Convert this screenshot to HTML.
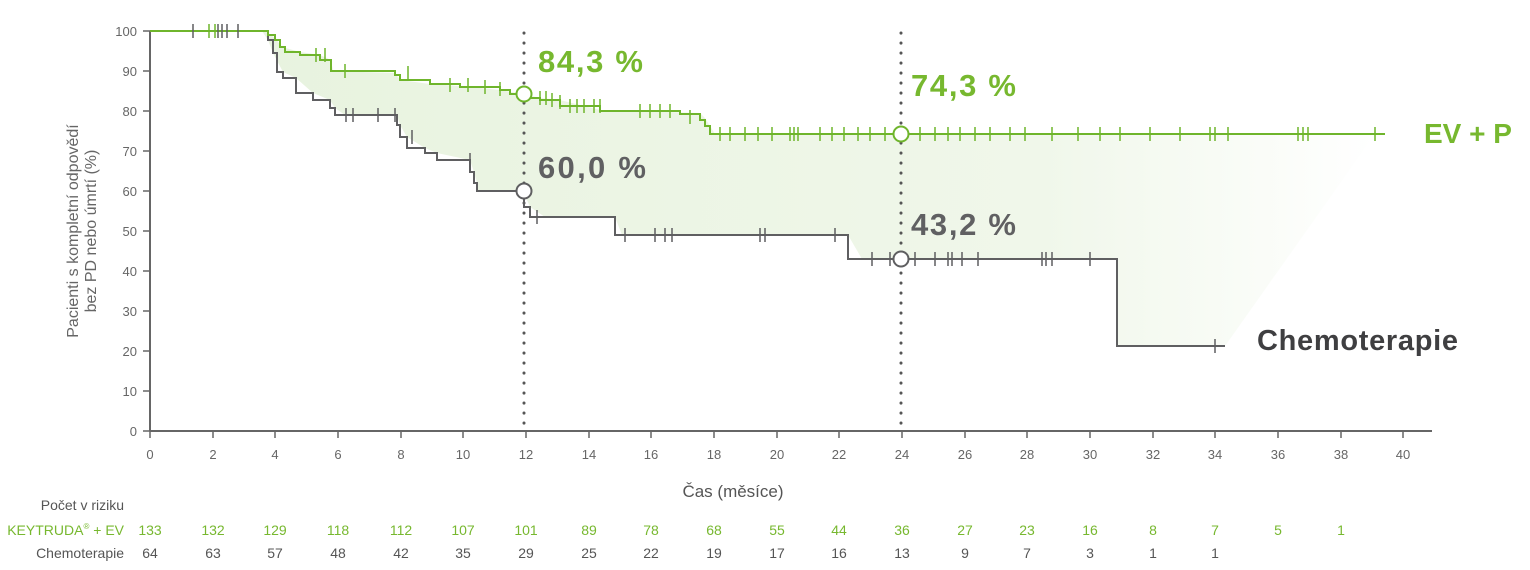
<!DOCTYPE html>
<html><head><meta charset="utf-8"><style>
body{margin:0;background:#fff}
svg{display:block;font-family:"Liberation Sans",sans-serif}
</style></head><body>
<svg width="1530" height="570" viewBox="0 0 1530 570" xmlns="http://www.w3.org/2000/svg">
<defs>
<linearGradient id="g" x1="0" x2="1" y1="0" y2="0">
<stop offset="0" stop-color="#e8f3df"/><stop offset="0.7" stop-color="#f0f7ea"/><stop offset="1" stop-color="#ffffff"/>
</linearGradient>
</defs>
<polygon fill="url(#g)" points="265,31 268,33 275,38 282,47 300,52 320,55 331,60 333,71 395,73 400,80 430,84 460,86 500,90 523,94 540,98 560,100 600,110 700,113 705,118 710,126 715,134 1375,134 1225,346 1117,346 1117,259 862,259 848,235 622,235 615,217 545,217 530,207 523,191 477,191 477,183 474,172 470,160 437,153 425,148 407,137 400,125 397,115 345,115 335,108 330,100 313,93 296,78 283,72 273,53 268,40 262,31"/>
<g stroke="#666" stroke-width="2" fill="none">
<line x1="150" y1="31" x2="150" y2="431"/>
<line x1="150" y1="431" x2="1432" y2="431"/>
</g>
<g stroke="#666" stroke-width="1.5">
<line x1="143" y1="31" x2="150" y2="31"/><line x1="143" y1="71" x2="150" y2="71"/><line x1="143" y1="111" x2="150" y2="111"/><line x1="143" y1="151" x2="150" y2="151"/><line x1="143" y1="191" x2="150" y2="191"/><line x1="143" y1="231" x2="150" y2="231"/><line x1="143" y1="271" x2="150" y2="271"/><line x1="143" y1="311" x2="150" y2="311"/><line x1="143" y1="351" x2="150" y2="351"/><line x1="143" y1="391" x2="150" y2="391"/><line x1="143" y1="431" x2="150" y2="431"/>
</g>
<g fill="#666" font-size="13" text-anchor="end">
<text x="137" y="36">100</text><text x="137" y="76">90</text><text x="137" y="116">80</text><text x="137" y="156">70</text><text x="137" y="196">60</text><text x="137" y="236">50</text><text x="137" y="276">40</text><text x="137" y="316">30</text><text x="137" y="356">20</text><text x="137" y="396">10</text><text x="137" y="436">0</text>
</g>
<g fill="#666" font-size="13" text-anchor="middle">
<text x="150" y="459">0</text><text x="213" y="459">2</text><text x="275" y="459">4</text><text x="338" y="459">6</text><text x="401" y="459">8</text><text x="463" y="459">10</text><text x="526" y="459">12</text><text x="589" y="459">14</text><text x="651" y="459">16</text><text x="714" y="459">18</text><text x="777" y="459">20</text><text x="839" y="459">22</text><text x="902" y="459">24</text><text x="965" y="459">26</text><text x="1027" y="459">28</text><text x="1090" y="459">30</text><text x="1153" y="459">32</text><text x="1215" y="459">34</text><text x="1278" y="459">36</text><text x="1341" y="459">38</text><text x="1403" y="459">40</text>
</g>
<g stroke="#666" stroke-width="1.5">
<line x1="150" y1="431" x2="150" y2="438"/><line x1="213" y1="431" x2="213" y2="438"/><line x1="275" y1="431" x2="275" y2="438"/><line x1="338" y1="431" x2="338" y2="438"/><line x1="401" y1="431" x2="401" y2="438"/><line x1="463" y1="431" x2="463" y2="438"/><line x1="526" y1="431" x2="526" y2="438"/><line x1="589" y1="431" x2="589" y2="438"/><line x1="651" y1="431" x2="651" y2="438"/><line x1="714" y1="431" x2="714" y2="438"/><line x1="777" y1="431" x2="777" y2="438"/><line x1="839" y1="431" x2="839" y2="438"/><line x1="902" y1="431" x2="902" y2="438"/><line x1="965" y1="431" x2="965" y2="438"/><line x1="1027" y1="431" x2="1027" y2="438"/><line x1="1090" y1="431" x2="1090" y2="438"/><line x1="1153" y1="431" x2="1153" y2="438"/><line x1="1215" y1="431" x2="1215" y2="438"/><line x1="1278" y1="431" x2="1278" y2="438"/><line x1="1341" y1="431" x2="1341" y2="438"/><line x1="1403" y1="431" x2="1403" y2="438"/>
</g>
<text x="733" y="497" font-size="17" fill="#555" text-anchor="middle">Čas (měsíce)</text>
<g fill="#666" font-size="16" text-anchor="middle" transform="translate(78,231) rotate(-90)">
<text x="0" y="0">Pacienti s kompletní odpovědí</text>
<text x="0" y="18">bez PD nebo úmrtí (%)</text>
</g>
<line x1="524" y1="33" x2="524" y2="431" stroke="#555" stroke-width="3" stroke-dasharray="0.1 9.9" stroke-linecap="round"/>
<line x1="901" y1="33" x2="901" y2="431" stroke="#555" stroke-width="3" stroke-dasharray="0.1 9.9" stroke-linecap="round"/>
<polyline fill="none" stroke="#5f5f61" stroke-width="2" points="150,31 262,31 268,31 268,40 273,40 273,53 277,53 277,72 283,72 283,78 296,78 296,93 313,93 313,100 330,100 330,108 335,108 335,115 397,115 397,125 400,125 400,137 407,137 407,148 425,148 425,153 437,153 437,160 470,160 470,172 474,172 474,183 477,183 477,191 524,191 524,207 530,207 530,217 615,217 615,235 848,235 848,259 1117,259 1117,346 1225,346"/>
<polyline fill="none" stroke="#6fb52c" stroke-width="2" points="150,31 265,31 268,31 268,35 275,35 275,40 280,40 280,47 285,47 285,52 300,52 300,55 320,55 320,60 331,60 331,71 395,71 395,75 400,75 400,80 430,80 430,84 460,84 460,87 500,87 500,90 510,90 510,94 530,94 530,98 540,98 540,100 560,100 560,106 600,106 600,111 680,111 680,114 700,114 700,120 705,120 705,126 710,126 710,134 1385,134"/>
<g stroke="#6fb52c" stroke-width="1.5">
<path d="M209 24v14M215 24v14M316 48v14M325 48v14M345 64v14M408 66v14M450 78v14M468 78v14M485 80v14M500 82v14M540 91v14M546 91v14M552 93v14M560 95v14M570 99v14M577 99v14M584 99v14M594 99v14M600 99v14M640 104v14M650 104v14M660 104v14M670 104v14M690 110v14M720 127v14M730 127v14M745 127v14M758 127v14M772 127v14M790 127v14M794 127v14M798 127v14M820 127v14M832 127v14M844 127v14M858 127v14M870 127v14M885 127v14M920 127v14M935 127v14M948 127v14M960 127v14M975 127v14M990 127v14M1010 127v14M1025 127v14M1052 127v14M1078 127v14M1100 127v14M1120 127v14M1150 127v14M1180 127v14M1210 127v14M1215 127v14M1228 127v14M1298 127v14M1303 127v14M1308 127v14M1375 127v14"/>
</g>
<g stroke="#5f5f61" stroke-width="1.5">
<path d="M193 24v14M218 24v14M222 24v14M227 24v14M238 24v14M346 108v14M353 108v14M378 108v14M395 108v14M412 130v14M470 153v14M537 210v14M625 228v14M655 228v14M665 228v14M672 228v14M760 228v14M765 228v14M835 228v14M872 252v14M890 252v14M915 252v14M935 252v14M948 252v14M952 252v14M962 252v14M978 252v14M1042 252v14M1046 252v14M1052 252v14M1090 252v14M1215 339v14"/>
</g>
<circle cx="524" cy="94" r="7.5" fill="#fff" stroke="#6fb52c" stroke-width="2"/>
<circle cx="901" cy="134" r="7.5" fill="#fff" stroke="#6fb52c" stroke-width="2"/>
<circle cx="524" cy="191" r="7.5" fill="#fff" stroke="#5f5f61" stroke-width="2"/>
<circle cx="901" cy="259" r="7.5" fill="#fff" stroke="#5f5f61" stroke-width="2"/>
<g font-weight="bold" font-size="31">
<text x="538" y="72" fill="#77b82f" textLength="105">84,3 %</text>
<text x="911" y="96" fill="#77b82f" textLength="105">74,3 %</text>
<text x="538" y="178" fill="#606062" textLength="108">60,0 %</text>
<text x="911" y="235" fill="#606062" textLength="105">43,2 %</text>
<text x="1424" y="143" fill="#77b82f" font-size="28">EV + P</text>
<text x="1257" y="350" fill="#3f3f41" font-size="29" textLength="201">Chemoterapie</text>
</g>
<g font-size="14" text-anchor="end">
<text x="124" y="510" fill="#555">Počet v riziku</text>
<text x="124" y="535" fill="#77b82f">KEYTRUDA<tspan font-size="8" dy="-6">®</tspan><tspan dy="6"> + EV</tspan></text>
<text x="124" y="558" fill="#555">Chemoterapie</text>
</g>
<g font-size="14" text-anchor="middle" fill="#77b82f">
<text x="150" y="535">133</text><text x="213" y="535">132</text><text x="275" y="535">129</text><text x="338" y="535">118</text><text x="401" y="535">112</text><text x="463" y="535">107</text><text x="526" y="535">101</text><text x="589" y="535">89</text><text x="651" y="535">78</text><text x="714" y="535">68</text><text x="777" y="535">55</text><text x="839" y="535">44</text><text x="902" y="535">36</text><text x="965" y="535">27</text><text x="1027" y="535">23</text><text x="1090" y="535">16</text><text x="1153" y="535">8</text><text x="1215" y="535">7</text><text x="1278" y="535">5</text><text x="1341" y="535">1</text>
</g>
<g font-size="14" text-anchor="middle" fill="#555">
<text x="150" y="558">64</text><text x="213" y="558">63</text><text x="275" y="558">57</text><text x="338" y="558">48</text><text x="401" y="558">42</text><text x="463" y="558">35</text><text x="526" y="558">29</text><text x="589" y="558">25</text><text x="651" y="558">22</text><text x="714" y="558">19</text><text x="777" y="558">17</text><text x="839" y="558">16</text><text x="902" y="558">13</text><text x="965" y="558">9</text><text x="1027" y="558">7</text><text x="1090" y="558">3</text><text x="1153" y="558">1</text><text x="1215" y="558">1</text>
</g>
</svg>
</body></html>
